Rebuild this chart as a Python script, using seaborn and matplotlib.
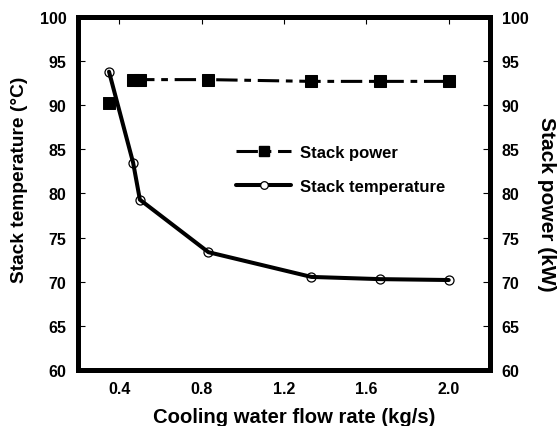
import matplotlib
matplotlib.use("Agg")
import matplotlib.pyplot as plt
from matplotlib.lines import Line2D
import seaborn as sns
import pandas as pd

# Data
flow_rate = [0.35, 0.467, 0.5, 0.833, 1.333, 1.667, 2.0]
stack_power = [90.3, 92.9, 92.9, 92.9, 92.7, 92.7, 92.7]
stack_temp = [93.8, 83.5, 79.3, 73.35, 70.55, 70.3, 70.2]
x_ticks = [0.4, 0.8, 1.2, 1.6, 2.0]
x_tick_labels = ["0.4", "0.8", "1.2", "1.6", "2.0"]
y_ticks = [60, 65, 70, 75, 80, 85, 90, 95, 100]

sns.set_theme(style="white")
plt.rcParams['font.family'] = ['Liberation Sans', 'DejaVu Sans']
plt.rcParams['font.weight'] = 'bold'
plt.rcParams['axes.labelweight'] = 'bold'
plt.rcParams['axes.labelcolor'] = 'black'
plt.rcParams['text.color'] = 'black'
plt.rcParams['xtick.color'] = 'black'
plt.rcParams['ytick.color'] = 'black'

df = pd.DataFrame({"flow": flow_rate, "power": stack_power, "temp": stack_temp})

fig = plt.figure(figsize=(5.58, 4.27), dpi=100)
ax = fig.add_axes([0.140, 0.131, 0.738, 0.827])
ax2 = ax.twinx()

sns.lineplot(data=df, x="flow", y="temp", ax=ax, color="black", linewidth=2.9,
             marker="o", markersize=6.5, markerfacecolor="none",
             markeredgecolor="black", markeredgewidth=0.9, zorder=3)
# first power point stands alone, the rest are joined by the dash-dot line
sns.lineplot(data=df.iloc[1:], x="flow", y="power", ax=ax2, color="black", linewidth=2.2,
             marker="s", markersize=8.5, markerfacecolor="black",
             markeredgecolor="black", zorder=3)
for ln in ax2.get_lines():
    ln.set_dashes([7, 2.2, 2.2, 2.2])
sns.scatterplot(data=df.iloc[:1], x="flow", y="power", ax=ax2, color="black",
                marker="s", s=72, edgecolor="black", zorder=3)

for a in (ax, ax2):
    a.set_xlim(0.2, 2.2)
    a.set_ylim(60, 100)
    a.set_yticks(y_ticks)
    a.tick_params(direction="in", length=5, width=0.8, colors="black",
                  labelsize=11.5, pad=8.5)
    for lab in a.get_yticklabels():
        lab.set_fontweight("bold")
    for s in a.spines.values():
        s.set_linewidth(3.6)
        s.set_color("black")

ax.set_xticks(x_ticks)
ax.set_xticklabels(x_tick_labels, fontweight="bold")
ax.tick_params(axis="x", top=True, direction="in", length=5, width=0.8, pad=8)
ax.tick_params(axis="y", left=True, right=False)
ax2.tick_params(axis="y", right=True, left=False)

ax.set_xlabel("Cooling water flow rate (kg/s)", fontsize=14.6, fontweight="bold",
              color="black", labelpad=8)
ax.xaxis.label.set_x(0.524)
ax.set_ylabel("Stack temperature (\u00b0C)", fontsize=13.8, fontweight="bold",
              color="black", labelpad=8)
ax.yaxis.label.set_y(0.541)
ax2.set_ylabel("Stack power (kW)", fontsize=15, fontweight="bold", color="black",
               rotation=270, labelpad=20)
ax2.yaxis.label.set_y(0.473)

h_power = Line2D([], [], color="black", linewidth=2.2, marker="s", markersize=7,
                 markerfacecolor="black", dashes=[7, 2.2, 2.2, 2.2])
h_temp = Line2D([], [], color="black", linewidth=2.9, marker="o", markersize=5.5,
                markerfacecolor="white", markeredgecolor="black", markeredgewidth=0.9)
leg = ax2.legend([h_power, h_temp], ["Stack power", "Stack temperature"],
                 loc="upper left", bbox_to_anchor=(0.348, 0.68), frameon=False,
                 prop={"size": 12, "weight": "bold"}, handlelength=3.3,
                 labelspacing=1.15, handletextpad=0.5)

fig.savefig("out.png", dpi=100)
